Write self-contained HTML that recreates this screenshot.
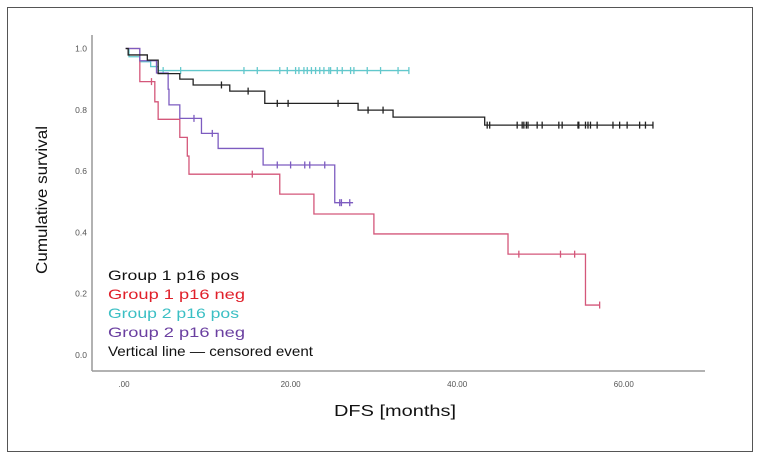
<!DOCTYPE html>
<html><head><meta charset="utf-8"><style>
body{margin:0;background:#fff;}
svg{display:block;font-family:"Liberation Sans",sans-serif;}
</style></head><body>
<svg id="chart" width="761" height="461">
<rect x="7.5" y="7.5" width="745" height="444" fill="#fff" stroke="#555" stroke-width="1"/>
<g id="axes"></g>
<g id="series"></g>
<text x="47" y="200" transform="rotate(-90 47 200)" text-anchor="middle" font-size="16" textLength="148" lengthAdjust="spacingAndGlyphs" fill="#111">Cumulative survival</text>
<text x="395" y="416" text-anchor="middle" font-size="16" textLength="122" lengthAdjust="spacingAndGlyphs" fill="#111">DFS [months]</text>
<g font-size="14">
<text x="108" y="280" fill="#111" textLength="131" lengthAdjust="spacingAndGlyphs">Group 1 p16 pos</text>
<text x="108" y="299" fill="#e0202a" textLength="137" lengthAdjust="spacingAndGlyphs">Group 1 p16 neg</text>
<text x="108" y="318" fill="#3bbfc4" textLength="131" lengthAdjust="spacingAndGlyphs">Group 2 p16 pos</text>
<text x="108" y="337" fill="#6a3fa0" textLength="137" lengthAdjust="spacingAndGlyphs">Group 2 p16 neg</text>
<text x="108" y="356" fill="#111" textLength="205" lengthAdjust="spacingAndGlyphs">Vertical line — censored event</text>
</g>
</svg>
<script>
const xTicks=[0,20,40,60];
const xTickLabels=[".00","20.00","40.00","60.00"];
const yTicks=[0,0.2,0.4,0.6,0.8,1.0];
const yTickLabels=["0.0","0.2","0.4","0.6","0.8","1.0"];
// step times and survival after each step
const g1posT=[0.5,2.8,4.1,6.7,8.3,12.7,16.9,28.1,32.3,43.3];
const g1posS=[0.979,0.962,0.918,0.90,0.881,0.861,0.821,0.799,0.776,0.750];
const g1posCens=[11.7,14.9,18.4,19.7,25.7,29.3,31.1,43.6,43.9,47.2,47.8,48,48.3,48.5,49.6,50.2,52.2,52.6,54.5,54.6,55.4,55.7,56,56.8,58.7,59.5,60.4,61.9,62.6,63.5];
const g1posEnd=63.5;
const g1negT=[1.9,3.7,4.1,6.7,7.6,7.8,18.7,22.8,30,46.1,55.4];
const g1negS=[0.892,0.826,0.769,0.710,0.649,0.590,0.525,0.460,0.395,0.329,0.163];
const g1negCens=[3.3,15.4,47.4,52.4,54.1,57.1];
const g1negEnd=57.1;
const g2posT=[0.6,1.9,3.2,4.1];
const g2posS=[0.973,0.957,0.941,0.928];
const g2posCens=[4.7,6.8,14.4,16,18.7,19.6,20.6,21,21.6,22,22.5,23,23.5,24,24.6,24.8,25.6,26.2,27.2,27.6,29.2,30.8,32.9,34.2];
const g2posEnd=34.2;
const g2negT=[1.9,3.9,5.3,5.4,6.7,9.3,11.3,16.7,25.3];
const g2negS=[0.96,0.92,0.867,0.816,0.772,0.723,0.674,0.620,0.497];
const g2negCens=[8.4,10.6,18.4,20,21.7,22.3,24.1,25.9,26.1,27.1];
const g2negEnd=27.5;

const NS="http://www.w3.org/2000/svg";
function X(t){return 124+t*8.33;}
function Y(s){return 355-s*306.5;}
function mk(tag,attrs,parent){const e=document.createElementNS(NS,tag);for(const k in attrs)e.setAttribute(k,attrs[k]);parent.appendChild(e);return e;}
const axes=document.getElementById('axes');
let ax=mk('line',{x1:92,y1:35,x2:92,y2:371,stroke:'#999','stroke-width':1.5},axes);


let bx=mk('line',{x1:92,y1:371,x2:705,y2:371,stroke:'#999','stroke-width':1.5},axes);


xTicks.forEach((v,i)=>{const t=mk('text',{x:X(v),y:387,'text-anchor':'middle','font-size':8,fill:'#555'},axes);t.textContent=xTickLabels[i];

});
yTicks.forEach((v,i)=>{const t=mk('text',{x:87,y:Y(v)+3,'text-anchor':'end','font-size':8.5,fill:'#555'},axes);t.textContent=yTickLabels[i];

});
function survAt(T,S,t){let s=1;for(let i=0;i<T.length;i++){if(T[i]<=t)s=S[i];}return s;}
const ser=document.getElementById('series');
function draw(name,T,S,C,end,color){
  let d='M'+X(0.2)+' '+Y(1);
  for(let i=0;i<T.length;i++){d+=' H'+X(T[i])+' V'+Y(S[i]);}
  d+=' H'+X(end);
  const p=mk('path',{d:d,fill:'none',stroke:color,'stroke-width':1.3},ser);
  
  
  C.forEach(c=>{const y=Y(survAt(T,S,c));const m=mk('line',{x1:X(c),y1:y-3.5,x2:X(c),y2:y+3.5,stroke:color,'stroke-width':1.3},ser);
  
  });
}
draw('g2-pos',g2posT,g2posS,g2posCens,g2posEnd,'#62c8cc');
draw('g1-neg',g1negT,g1negS,g1negCens,g1negEnd,'#d4577a');
draw('g2-neg',g2negT,g2negS,g2negCens,g2negEnd,'#7d5cc0');
draw('g1-pos',g1posT,g1posS,g1posCens,g1posEnd,'#222');
</script>
</body></html>
